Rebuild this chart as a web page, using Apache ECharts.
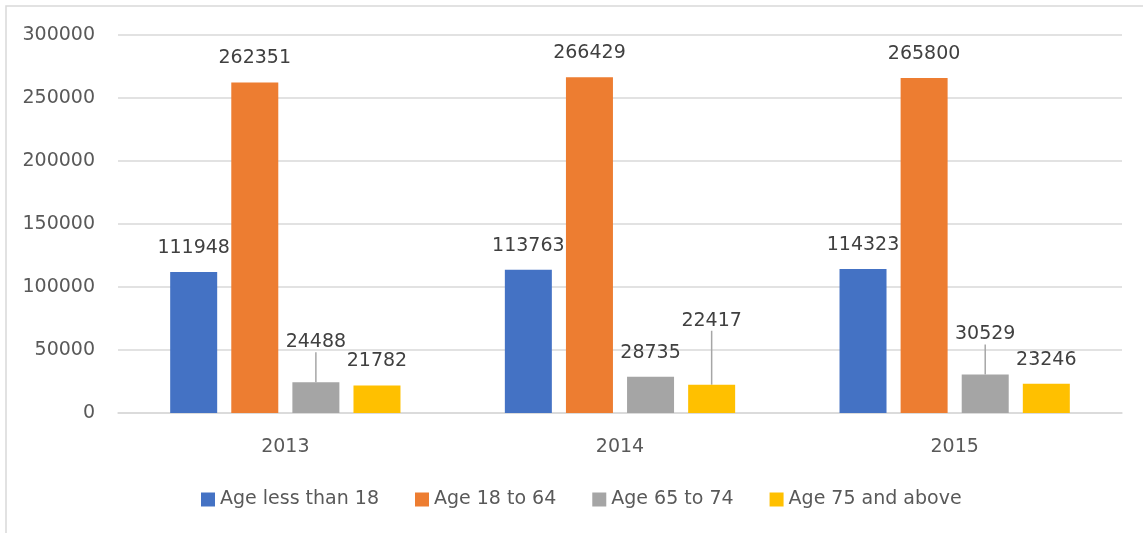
<!DOCTYPE html>
<html>
<head>
<meta charset="utf-8">
<script src="https://cdn.jsdelivr.net/npm/echarts@6/dist/echarts.min.js"></script>
<style>
  html, body { margin: 0; padding: 0; background: #fff; }
  #chart { width: 1143px; height: 533px; }
</style>
</head>
<body>
<div id="chart"></div>
<script>
const years = ['2013', '2014', '2015'];
const seriesNames = ['Age less than 18', 'Age 18 to 64', 'Age 65 to 74', 'Age 75 and above'];
const under18 = [111948, 113763, 114323];
const age18to64 = [262351, 266429, 265800];
const age65to74 = [24488, 28735, 30529];
const age75plus = [21782, 22417, 23246];

const colors = ['#4472C4', '#ED7D31', '#A5A5A5', '#FFC000'];
// some labels were dragged up in the source, with a leader line back to the bar
const labelShift = [[0, 0, 0], [0, 0, 0], [-16, 0, -16], [0, -40, 0]];

const chartDom = document.getElementById('chart');
const myChart = echarts.init(chartDom);
const font = '"DejaVu Sans", sans-serif';

const makeSeries = (name, values, i) => ({
  name,
  type: 'bar',
  // only the moved labels get a leader line
  data: values.map((v, j) => ({ value: v, labelLine: { show: !!labelShift[i][j] } })),
  barWidth: 47,
  barGap: '30%',
  itemStyle: { color: colors[i] },
  label: {
    show: true,
    position: 'top',
    distance: 14,
    color: '#404040',
    fontSize: 19,
    lineHeight: 20,
    fontFamily: font
  },
  labelLine: {
    show: false,
    lineStyle: { color: '#A6A6A6', width: 1.5 }
  },
  labelLayout: (params) => ({ dy: labelShift[i][params.dataIndex] })
});

const option = {
  animation: false,
  color: colors,
  // chart area frame, only the left and top edges are in view
  graphic: [{
    type: 'polyline',
    shape: { points: [[6, 600], [6, 6], [1200, 6]] },
    style: { fill: 'none', stroke: '#D9D9D9', lineWidth: 1.5 },
    silent: true
  }],
  grid: { left: 118, right: 21, top: 35, bottom: 120 },
  legend: {
    left: 196,
    top: 485,
    itemWidth: 14,
    itemHeight: 14,
    itemGap: 36,
    icon: 'rect',
    textStyle: { color: '#595959', fontSize: 19, fontFamily: font },
    data: seriesNames
  },
  xAxis: {
    type: 'category',
    data: years,
    axisTick: { show: false },
    axisLine: { lineStyle: { color: '#D9D9D9', width: 1.5 } },
    axisLabel: { color: '#595959', fontSize: 19, fontFamily: font, margin: 25 }
  },
  yAxis: {
    type: 'value',
    min: 0,
    max: 300000,
    interval: 50000,
    axisLine: { show: false },
    axisTick: { show: false },
    splitLine: { lineStyle: { color: '#D9D9D9', width: 1.5 } },
    axisLabel: {
      color: '#595959',
      fontSize: 19,
      fontFamily: font,
      margin: 23,
      padding: [4, 0, 0, 0],
      formatter: (v) => String(v)
    }
  },
  series: [
    makeSeries(seriesNames[0], under18, 0),
    makeSeries(seriesNames[1], age18to64, 1),
    makeSeries(seriesNames[2], age65to74, 2),
    makeSeries(seriesNames[3], age75plus, 3)
  ]
};

myChart.setOption(option);

window.addEventListener('resize', () => myChart.resize());
</script>
</body>
</html>
